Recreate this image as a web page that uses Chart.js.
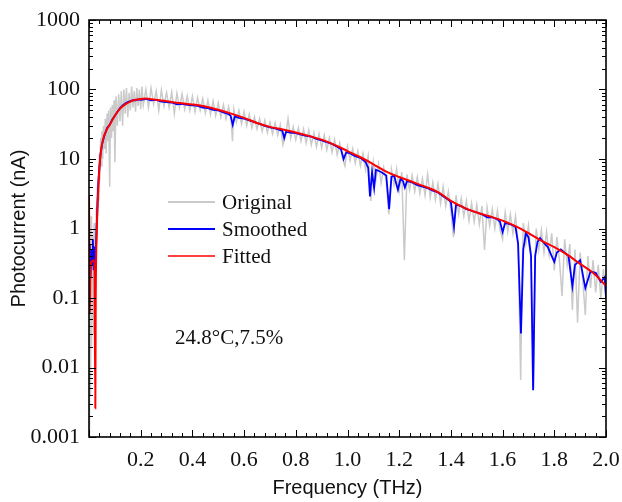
<!DOCTYPE html>
<html>
<head>
<meta charset="utf-8">
<script src="https://cdn.jsdelivr.net/npm/chart.js"></script>
<style>
  body { margin: 0; background: #fff; }
  #wrap { width: 622px; height: 502px; position: relative; }
</style>
</head>
<body>
<div id="wrap"><canvas id="chart"></canvas></div>
<script>
// Photocurrent spectrum, [frequency THz, current nA]
const original = [
  [0, 0.003], [0.002, 0.001], [0.004, 0.6], [0.006, 0.004], [0.008, 1.5], [0.01, 0.02],
  [0.012, 0.8], [0.014, 0.05], [0.016, 0.5], [0.018, 0.03], [0.02, 1.2], [0.022, 0.1],
  [0.024, 0.6], [0.026, 0.2], [0.028, 2], [0.03, 0.6], [0.032, 4], [0.034, 1.5],
  [0.036, 6], [0.038, 2.5], [0.04, 12], [0.042, 5], [0.045, 20], [0.048, 8],
  [0.05, 25], [0.053, 10], [0.056, 30], [0.06, 14], [0.063, 38], [0.066, 12],
  [0.07, 45], [0.073, 18], [0.076, 50], [0.08, 4], [0.083, 55], [0.087, 20],
  [0.09, 60], [0.093, 25], [0.097, 70], [0.1, 9], [0.105, 80], [0.11, 30],
  [0.115, 85], [0.12, 35], [0.125, 95], [0.13, 30], [0.135, 100], [0.14, 45],
  [0.145, 105], [0.15, 40], [0.155, 90], [0.16, 50], [0.165, 110], [0.17, 55],
  [0.175, 95], [0.18, 48], [0.185, 105], [0.19, 58], [0.195, 100], [0.2, 52],
  [0.205, 110], [0.21, 60], [0.22, 100], [0.23, 55], [0.24, 105], [0.25, 62],
  [0.26, 95], [0.27, 50], [0.28, 98], [0.29, 58], [0.3, 90], [0.31, 55],
  [0.32, 92], [0.33, 45], [0.34, 88], [0.35, 55], [0.36, 86], [0.37, 52],
  [0.38, 80], [0.39, 50], [0.4, 80], [0.41, 48], [0.42, 76], [0.43, 50],
  [0.44, 74], [0.45, 46], [0.46, 70], [0.47, 44], [0.48, 68], [0.49, 42],
  [0.5, 64], [0.51, 40], [0.52, 60], [0.53, 38], [0.54, 56], [0.55, 36],
  [0.555, 18], [0.56, 52], [0.57, 34], [0.58, 50], [0.59, 32], [0.6, 48],
  [0.61, 30], [0.62, 44], [0.63, 28], [0.64, 40], [0.65, 27], [0.66, 38],
  [0.67, 25], [0.68, 36], [0.69, 24], [0.7, 34], [0.71, 23], [0.72, 33],
  [0.73, 22], [0.74, 31], [0.75, 16], [0.76, 21], [0.77, 38], [0.78, 20],
  [0.79, 29], [0.8, 19], [0.81, 28], [0.82, 18], [0.83, 27], [0.84, 17],
  [0.85, 26], [0.86, 16], [0.87, 24], [0.88, 15], [0.89, 23], [0.9, 14.5],
  [0.91, 22], [0.92, 13.5], [0.93, 20], [0.94, 12.5], [0.95, 19], [0.96, 11.5],
  [0.97, 17], [0.98, 10.5], [0.99, 8], [1.0, 15], [1.01, 9.5], [1.02, 14],
  [1.03, 8.8], [1.04, 13], [1.05, 8], [1.06, 12], [1.07, 7], [1.08, 11],
  [1.09, 2.5], [1.1, 9], [1.11, 5], [1.12, 8.5], [1.13, 4.5], [1.14, 7.5],
  [1.15, 4.8], [1.16, 1.6], [1.17, 7], [1.18, 4.2], [1.19, 7.2], [1.2, 3.5],
  [1.21, 6.5], [1.22, 0.35], [1.23, 6], [1.24, 3.6], [1.25, 5.8], [1.26, 3.4],
  [1.27, 5.5], [1.28, 3.2], [1.29, 5.2], [1.3, 3.0], [1.31, 6.0], [1.32, 2.8],
  [1.33, 4.6], [1.34, 2.6], [1.35, 4.4], [1.36, 2.3], [1.37, 4.0], [1.38, 2.1],
  [1.39, 3.4], [1.4, 1.8], [1.41, 0.75], [1.42, 3.0], [1.43, 1.6], [1.44, 2.7],
  [1.45, 1.5], [1.46, 2.5], [1.47, 1.3], [1.48, 2.3], [1.49, 1.25], [1.5, 2.2],
  [1.51, 1.15], [1.52, 2.1], [1.53, 0.49], [1.54, 2.0], [1.55, 1.1], [1.56, 1.9],
  [1.57, 1.0], [1.58, 1.8], [1.59, 0.95], [1.6, 0.7], [1.61, 1.7], [1.62, 0.9],
  [1.63, 1.6], [1.64, 0.85], [1.65, 1.5], [1.66, 0.6], [1.67, 0.0066], [1.675, 0.2],
  [1.68, 1.2], [1.69, 0.6], [1.7, 1.1], [1.71, 0.4], [1.72, 0.005], [1.725, 0.3],
  [1.73, 1.0], [1.74, 0.5], [1.75, 0.95], [1.76, 0.45], [1.77, 0.9], [1.78, 0.42],
  [1.79, 0.85], [1.8, 0.25], [1.81, 0.75], [1.82, 0.35], [1.83, 0.107], [1.84, 0.7],
  [1.85, 0.3], [1.86, 0.6], [1.87, 0.067], [1.88, 0.5], [1.89, 0.044], [1.9, 0.45],
  [1.91, 0.18], [1.92, 0.057], [1.93, 0.4], [1.94, 0.14], [1.95, 0.35], [1.96, 0.12],
  [1.97, 0.3], [1.98, 0.1], [1.99, 0.26], [2.0, 0.1]
]

const smoothed = [
  [0, 0.25], [0.003, 0.6], [0.006, 0.2], [0.009, 0.5], [0.012, 0.3], [0.015, 0.7],
  [0.018, 0.25], [0.021, 0.55], [0.024, 0.3], [0.027, 0.6], [0.03, 1.2], [0.033, 2.5],
  [0.036, 4.5], [0.04, 7.5], [0.045, 12], [0.05, 16], [0.06, 22], [0.07, 28],
  [0.08, 31], [0.09, 37], [0.1, 42], [0.11, 48], [0.12, 54], [0.13, 59],
  [0.14, 63], [0.15, 66], [0.16, 68], [0.17, 70], [0.18, 70], [0.19, 72],
  [0.2, 71], [0.22, 73], [0.24, 70], [0.26, 71], [0.28, 67], [0.3, 66],
  [0.32, 65], [0.34, 61], [0.36, 62], [0.38, 60], [0.4, 59], [0.42, 58],
  [0.44, 55], [0.46, 54], [0.48, 51], [0.5, 50], [0.52, 47], [0.54, 44],
  [0.548, 42], [0.556, 31], [0.564, 41], [0.58, 39], [0.6, 38], [0.62, 36],
  [0.64, 34], [0.66, 32], [0.68, 30], [0.7, 28.5], [0.72, 27.5], [0.74, 26],
  [0.748, 25.5], [0.755, 20], [0.762, 24.5], [0.78, 24], [0.8, 23.5], [0.82, 22.5],
  [0.84, 21.5], [0.86, 21], [0.88, 19.5], [0.9, 18.5], [0.92, 17.5], [0.94, 16.5],
  [0.96, 15], [0.975, 13.8], [0.985, 10], [0.995, 12.5], [1.01, 12], [1.03, 11],
  [1.05, 10.4], [1.07, 9], [1.08, 7.5], [1.087, 2.9], [1.095, 6.5], [1.103, 3.8],
  [1.11, 7], [1.13, 6.5], [1.15, 5.8], [1.161, 1.9], [1.17, 5.5], [1.18, 5.8],
  [1.195, 3.6], [1.205, 5.2], [1.215, 4.8], [1.222, 3.9], [1.23, 4.8], [1.25, 4.6],
  [1.27, 4.2], [1.29, 4.0], [1.31, 3.8], [1.33, 3.5], [1.35, 3.3], [1.37, 2.9],
  [1.39, 2.6], [1.4, 2.4], [1.412, 1.06], [1.42, 2.2], [1.44, 2.1], [1.46, 1.9],
  [1.48, 1.8], [1.5, 1.7], [1.52, 1.6], [1.54, 1.45], [1.56, 1.45], [1.58, 1.35],
  [1.59, 1.25], [1.6, 0.89], [1.61, 1.2], [1.63, 1.15], [1.65, 1.05], [1.66, 0.6],
  [1.671, 0.031], [1.68, 0.5], [1.69, 0.85], [1.7, 0.75], [1.71, 0.4], [1.718, 0.0047],
  [1.726, 0.4], [1.735, 0.64], [1.745, 0.73], [1.76, 0.62], [1.775, 0.54], [1.79, 0.4],
  [1.8, 0.33], [1.81, 0.45], [1.825, 0.5], [1.84, 0.45], [1.855, 0.4], [1.87, 0.148],
  [1.88, 0.3], [1.9, 0.35], [1.92, 0.139], [1.94, 0.24], [1.96, 0.23], [1.98, 0.17],
  [1.995, 0.2], [2.0, 0.1]
]

const fitted = [
  [0, 3], [0.003, 0.06], [0.006, 0.3], [0.021, 0.35], [0.0245, 0.0026], [0.026, 0.09],
  [0.03, 0.9], [0.035, 3], [0.04, 7], [0.045, 12], [0.054, 19], [0.07, 27],
  [0.08, 31], [0.1, 42], [0.12, 53], [0.14, 61], [0.16, 67], [0.18, 71],
  [0.2, 73], [0.22, 74], [0.25, 72], [0.3, 68],
  [0.35, 64], [0.4, 61], [0.45, 57], [0.5, 51], [0.55, 45], [0.6, 39],
  [0.65, 33], [0.7, 29], [0.75, 26.5], [0.8, 24], [0.85, 21.5], [0.9, 19],
  [0.95, 16], [1.0, 13], [1.05, 10.6], [1.1, 8.4], [1.15, 6.6], [1.2, 5.5],
  [1.25, 4.7], [1.3, 4.0], [1.35, 3.35], [1.4, 2.5], [1.45, 2.0], [1.5, 1.7],
  [1.55, 1.5], [1.6, 1.3], [1.65, 1.08], [1.7, 0.86], [1.75, 0.67], [1.8, 0.54],
  [1.85, 0.42], [1.9, 0.31], [1.95, 0.23], [2.0, 0.15]
]

const yTicks = [0.001, 0.01, 0.1, 1, 10, 100, 1000]
const seriesNames = ['Original', 'Smoothed', 'Fitted']
const seriesColors = ['#cacaca', '#0000ff', '#ff0000']
const noteText = '24.8°C,7.5%'

const serif = "'Liberation Serif', 'Times New Roman', serif"
const sans = "'Liberation Sans', Arial, sans-serif"

const toPoints = arr => arr.map(([x, y]) => ({ x, y }))

// рамка, тики внутрь, легенда и подпись
const decorations = {
  id: 'decorations',
  afterDatasetsDraw(chart) {
    const { ctx, chartArea: a, scales: { x, y } } = chart
    ctx.save()
    ctx.strokeStyle = '#000'
    ctx.lineWidth = 1
    ctx.beginPath()
    for (let i = 0; i <= 50; i++) {
      const px = Math.round(x.getPixelForValue(i * 0.04)) + 0.5
      const len = i % 5 === 0 ? 7 : 4
      ctx.moveTo(px, a.bottom); ctx.lineTo(px, a.bottom - len)
      ctx.moveTo(px, a.top); ctx.lineTo(px, a.top + len)
    }
    yTicks.forEach((base, k) => {
      for (let m = 1; m <= 9; m++) {
        if (k === yTicks.length - 1 && m > 1) break
        const py = Math.round(y.getPixelForValue(base * m)) + 0.5
        const len = m === 1 ? 7 : 4
        ctx.moveTo(a.left, py); ctx.lineTo(a.left + len, py)
        ctx.moveTo(a.right, py); ctx.lineTo(a.right - len, py)
      }
    })
    ctx.stroke()

    ctx.lineWidth = 1.6
    ctx.strokeRect(a.left, a.top, a.right - a.left, a.bottom - a.top)

    // legend
    const widths = [2, 2, 1.3]
    ctx.font = `21px ${serif}`
    ctx.textBaseline = 'middle'
    ctx.fillStyle = '#111'
    seriesNames.forEach((name, i) => {
      const ly = 202 + i * 27
      ctx.strokeStyle = seriesColors[i]
      ctx.lineWidth = widths[i]
      ctx.beginPath()
      ctx.moveTo(168, ly); ctx.lineTo(215, ly)
      ctx.stroke()
      ctx.fillText(name, 222, ly + 1)
    })

    ctx.font = `21px ${serif}`
    ctx.fillText(noteText, 175, 338)
    ctx.restore()
  }
}

new Chart(document.getElementById('chart'), {
  type: 'line',
  data: {
    datasets: [
      {
        label: seriesNames[2],
        data: toPoints(fitted),
        borderColor: seriesColors[2],
        borderWidth: 2,
        cubicInterpolationMode: 'monotone',
        pointRadius: 0,
        order: 1
      },
      {
        label: seriesNames[1],
        data: toPoints(smoothed),
        borderColor: seriesColors[1],
        borderWidth: 1.8,
        tension: 0,
        pointRadius: 0,
        order: 2
      },
      {
        label: seriesNames[0],
        data: toPoints(original),
        borderColor: seriesColors[0],
        borderWidth: 1.5,
        tension: 0,
        pointRadius: 0,
        order: 3
      }
    ]
  },
  options: {
    responsive: true,
    maintainAspectRatio: false,
    animation: false,
    layout: { padding: { top: 20, right: 16, left: 0, bottom: 0 } },
    plugins: {
      legend: { display: false },
      tooltip: { enabled: false }
    },
    scales: {
      x: {
        type: 'linear',
        min: 0,
        max: 2.0,
        afterFit: s => {
          s.height = 65
          s.paddingLeft = 0
          s.paddingRight = 0
        },
        afterBuildTicks: s => {
          s.ticks = [0.2, 0.4, 0.6, 0.8, 1.0, 1.2, 1.4, 1.6, 1.8, 2.0].map(v => ({ value: v }))
        },
        grid: { display: false, drawTicks: false },
        border: { display: false },
        ticks: {
          color: '#111',
          padding: 10,
          maxRotation: 0,
          font: { family: serif, size: 22 },
          callback: v => v.toFixed(1)
        },
        title: {
          display: true,
          text: 'Frequency (THz)',
          color: '#111',
          font: { family: sans, size: 20 },
          padding: { top: 0, bottom: 2 }
        }
      },
      y: {
        type: 'logarithmic',
        min: 0.001,
        max: 1000,
        afterFit: s => {
          s.width = 89
          s.paddingTop = 0
          s.paddingBottom = 0
        },
        afterBuildTicks: s => {
          s.ticks = yTicks.map(v => ({ value: v }))
        },
        grid: { display: false, drawTicks: false },
        border: { display: false },
        ticks: {
          color: '#111',
          padding: 9,
          font: { family: serif, size: 22 },
          callback: v => String(v)
        },
        title: {
          display: true,
          text: 'Photocurrent (nA)',
          color: '#111',
          font: { family: sans, size: 20 },
          padding: { top: 7, bottom: 0 }
        }
      }
    }
  },
  plugins: [decorations]
})
</script>
</body>
</html>
